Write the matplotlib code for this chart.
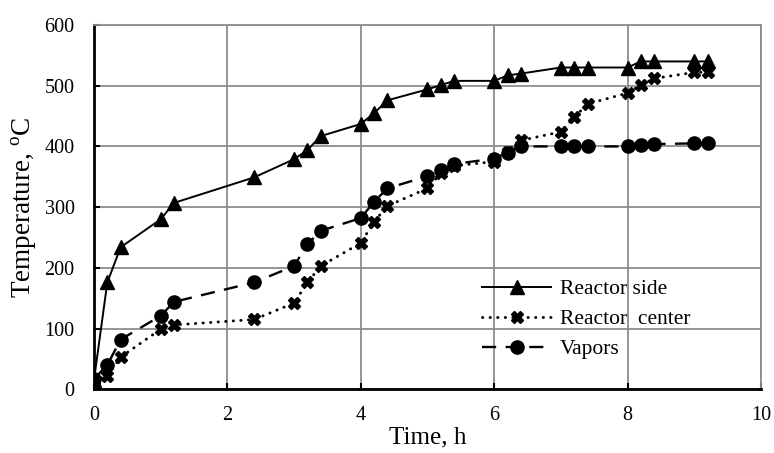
import matplotlib.pyplot as plt

plt.rcParams['font.family'] = 'Liberation Serif'
plt.rcParams['mathtext.fontset'] = 'custom'
plt.rcParams['mathtext.rm'] = 'Liberation Serif'

# data
time_h = [0, 0.2, 0.4, 1.0, 1.2, 2.4, 3.0, 3.2, 3.4, 4.0, 4.2, 4.4, 5.0, 5.2, 5.4,
          6.0, 6.2, 6.4, 7.0, 7.2, 7.4, 8.0, 8.2, 8.4, 9.0, 9.2]
reactor_side = [15, 176, 234, 280, 307, 349, 379, 394, 417, 437, 455, 476, 494, 501, 508,
                508, 517, 520, 530, 530, 530, 530, 540, 540, 540, 540]
reactor_center = [15, 22, 53, 99, 106, 115, 142, 176, 203, 241, 276, 302, 331, 356, 368,
                  375, 391, 410, 424, 448, 470, 488, 501, 512, 522, 522]
vapors = [17, 40, 82, 121, 144, 176, 203, 239, 261, 282, 309, 331, 351, 361, 371,
          380, 390, 400, 400, 400, 400, 400, 402, 404, 405, 405]

fig = plt.figure(figsize=(7.74, 4.53), dpi=100)
ax = fig.add_axes([0.1214, 0.1406, 0.8618, 0.8042])

ax.plot(time_h, reactor_side, color='black', lw=1.4, marker='^', ms=9.5,
        label='Reactor side', zorder=3)
ax.plot(time_h, reactor_center, color='black', lw=2.1, dashes=(0.1, 2.5),
        dash_capstyle='round', marker='X', ms=9, label='Reactor  center', zorder=3)
ax.plot(time_h, vapors, color='black', lw=1.7, dashes=(6, 4), marker='o', ms=9.5,
        label='Vapors', zorder=3)

ax.set_xlim(0, 10)
ax.set_ylim(0, 600)
ax.set_xticks([0, 2, 4, 6, 8, 10])
ax.set_yticks([0, 100, 200, 300, 400, 500, 600])
ax.grid(True, color='#8c8c8c', lw=1.3)
ax.set_axisbelow(True)

for side in ['top', 'right']:
    ax.spines[side].set_color('#8c8c8c')
    ax.spines[side].set_linewidth(1.3)
for side in ['left', 'bottom']:
    ax.spines[side].set_color('black')
    ax.spines[side].set_linewidth(2)

ax.tick_params(direction='in', length=4, width=1.5, labelsize=14.5)
ax.tick_params(axis='y', pad=14)
ax.tick_params(axis='x', pad=12)

ax.set_xlabel('Time, h', fontsize=18, labelpad=1)
ax.set_ylabel('Temperature, $^{\\mathrm{o}}$C', fontsize=19.5, labelpad=4)

ax.legend(loc='upper left', bbox_to_anchor=(0.553, 0.356), frameon=False,
          fontsize=15.5, handlelength=3.2, handletextpad=0.42, labelspacing=0.47)

fig.savefig('out.png', dpi=100)
